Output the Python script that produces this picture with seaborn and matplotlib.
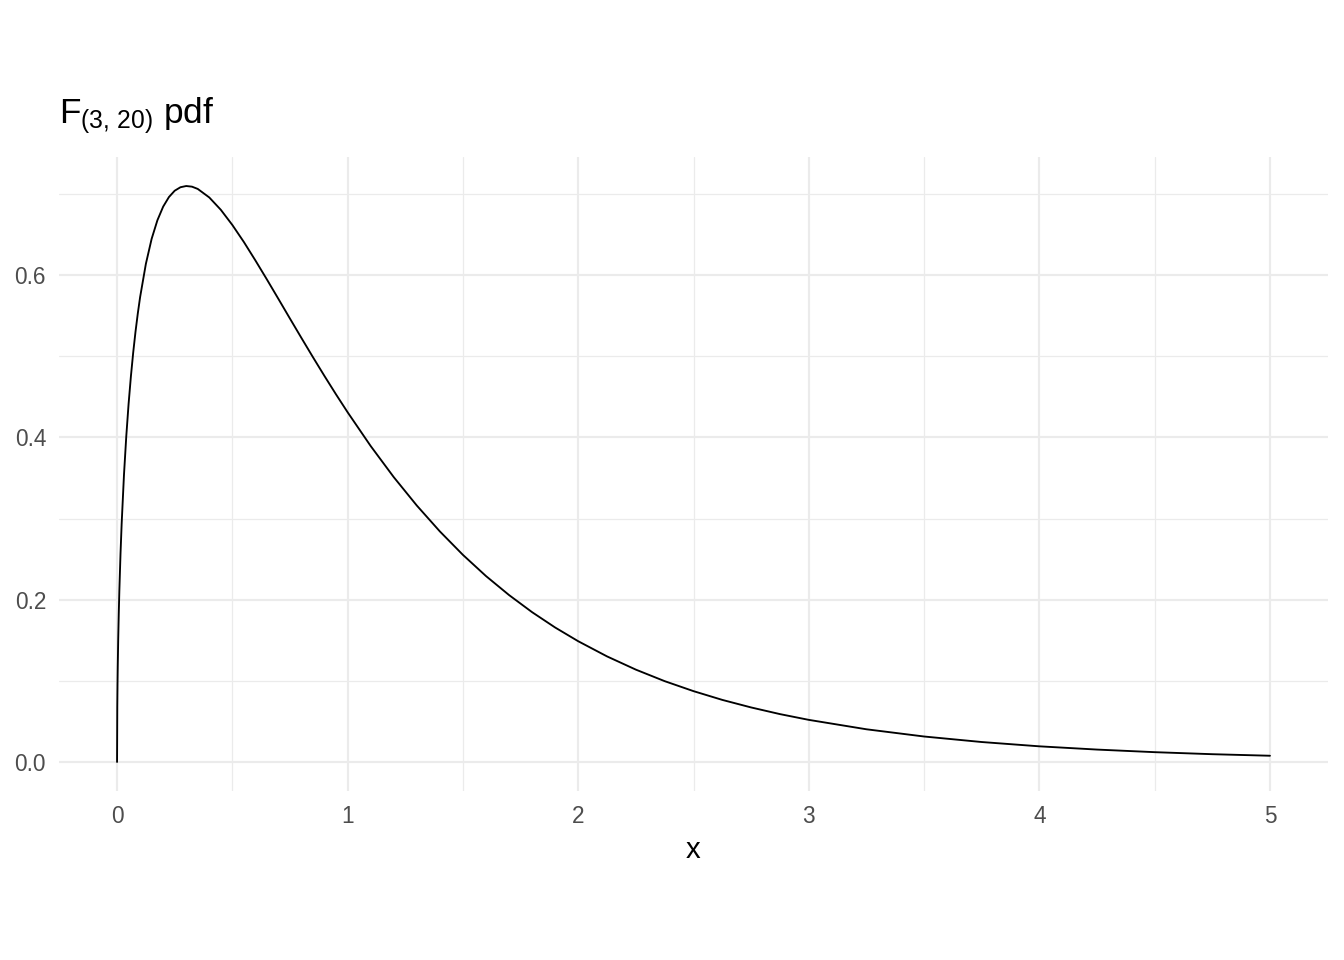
import matplotlib
matplotlib.use("Agg")
import matplotlib.pyplot as plt
import seaborn as sns
import pandas as pd
from matplotlib.ticker import MultipleLocator

# Values
x_vals = [0.0, 0.001, 0.002, 0.003, 0.005, 0.0075, 0.01, 0.015, 0.02, 0.03,
          0.04, 0.05, 0.06, 0.07, 0.08, 0.09, 0.1, 0.125, 0.15, 0.175, 0.2,
          0.225, 0.25, 0.275, 0.3, 0.325, 0.35, 0.4, 0.45, 0.5, 0.55, 0.6,
          0.65, 0.7, 0.75, 0.8, 0.85, 0.9, 0.95, 1.0, 1.1, 1.2, 1.3, 1.4,
          1.5, 1.6, 1.7, 1.8, 1.9, 2.0, 2.125, 2.25, 2.375, 2.5, 2.625, 2.75,
          2.875, 3.0, 3.25, 3.5, 3.75, 4.0, 4.25, 4.5, 4.75, 5.0]
density = [0.0, 0.0679, 0.0958, 0.1171, 0.1507, 0.1838, 0.2113, 0.2566, 0.2937,
           0.3536, 0.4013, 0.4411, 0.4750, 0.5044, 0.5301, 0.5527, 0.5728,
           0.6138, 0.6446, 0.6675, 0.6843, 0.6961, 0.7039, 0.7082, 0.7097,
           0.7089, 0.7061, 0.6956, 0.6804, 0.6617, 0.6407, 0.6180, 0.5945,
           0.5705, 0.5463, 0.5223, 0.4986, 0.4754, 0.4528, 0.4309, 0.3893,
           0.3510, 0.3160, 0.2841, 0.2552, 0.2291, 0.2057, 0.1846, 0.1657,
           0.1488, 0.1301, 0.1138, 0.0996, 0.0873, 0.0765, 0.0672, 0.0590,
           0.0519, 0.0403, 0.0314, 0.0246, 0.0193, 0.0153, 0.0121, 0.0096,
           0.0077]
x_ticks = [0, 1, 2, 3, 4, 5]
y_ticks = [0.0, 0.2, 0.4, 0.6]
y_tick_labels = ["0.0", "0.2", "0.4", "0.6"]

df = pd.DataFrame({"x": x_vals, "y": density})

sns.set_theme(style="white")
plt.rcParams["font.family"] = ["Liberation Sans", "DejaVu Sans"]
plt.rcParams["mathtext.fontset"] = "custom"
plt.rcParams["mathtext.rm"] = "Liberation Sans"
plt.rcParams["mathtext.it"] = "Liberation Sans:italic"

fig = plt.figure(figsize=(7, 5), dpi=192)
ax = fig.add_axes([0.0442, 0.17625, 0.9436, 0.66025])

sns.lineplot(data=df, x="x", y="y", ax=ax, color="black", linewidth=0.7)

ax.set_xlim(-0.25, 5.25)
ax.set_ylim(-0.0355, 0.7455)
ax.set_xticks(x_ticks)
ax.set_yticks(y_ticks)
ax.set_yticklabels(y_tick_labels)
ax.xaxis.set_minor_locator(MultipleLocator(0.5))
ax.yaxis.set_minor_locator(MultipleLocator(0.1))
ax.grid(which="major", color="#EBEBEB", linewidth=0.8)
ax.grid(which="minor", color="#EBEBEB", linewidth=0.45)
ax.set_axisbelow(True)
for s in ax.spines.values():
    s.set_visible(False)
ax.tick_params(which="both", length=0)
ax.tick_params(axis="x", pad=5.3, labelsize=8.5, labelcolor="#4D4D4D")
ax.tick_params(axis="y", pad=5, labelsize=8.5, labelcolor="#4D4D4D")

ax.set_xlabel("x", fontsize=11, color="black", labelpad=3)
ax.set_ylabel("")
ax.set_title(r"$\mathrm{F}_{\mathrm{(3,\,20)}}$ pdf", loc="left", fontsize=13.2,
             color="black", pad=12.5)

fig.savefig("out.png", dpi=192, facecolor="white")
